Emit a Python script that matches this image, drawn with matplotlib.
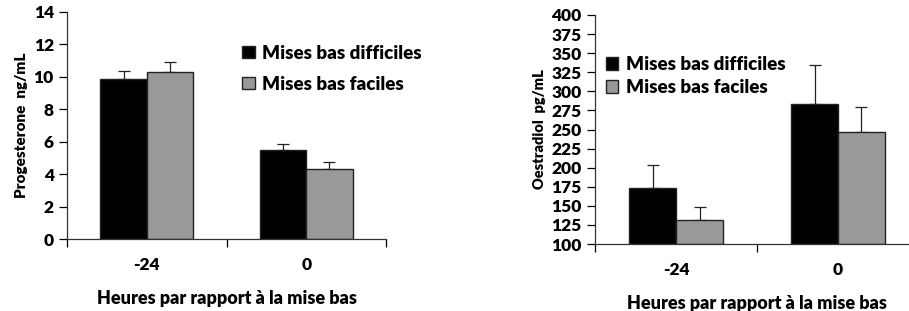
import matplotlib.pyplot as plt
import numpy as np

# --- donnees ---
heures = ['-24', '0']
series = ['Mises bas difficiles', 'Mises bas faciles']
couleurs = ['#000000', '#999999']

progesterone = [[9.83, 5.51], [10.30, 4.34]]
progesterone_err = [[0.53, 0.37], [0.58, 0.43]]

oestradiol = [[173, 283], [132, 247]]
oestradiol_err = [[31, 51], [17, 32]]

plt.rcParams['font.family'] = ['Lato', 'DejaVu Sans']
plt.rcParams['font.weight'] = 'heavy'


def panneau(ax, valeurs, erreurs, ylabel, ylsize, ylim, yticks, legend_pos,
            spacing):
    x = np.arange(len(heures)) + 0.5
    w = 0.29
    for i, (vals, errs) in enumerate(zip(valeurs, erreurs)):
        pos = x + (i - 0.5) * w
        ax.bar(pos, np.array(vals) - ylim[0], w, bottom=ylim[0],
               color=couleurs[i], edgecolor='#222222', linewidth=1.0,
               label=series[i], zorder=2)
        ax.errorbar(pos, vals, yerr=[np.zeros(len(errs)), errs], fmt='none',
                    ecolor='#222222', elinewidth=0.9, capsize=4, capthick=0.9,
                    zorder=1)
    ax.set_xlim(0, len(heures))
    ax.set_ylim(*ylim)
    ax.set_yticks(yticks)
    ax.set_xticks(np.arange(len(heures) + 1))
    ax.set_xticklabels([])
    ax.set_xticks(x, minor=True)
    ax.set_xticklabels(heures, minor=True)
    ax.tick_params(axis='x', which='major', length=6, width=0.9, direction='out')
    ax.tick_params(axis='x', which='minor', length=0, pad=13, labelsize=12.5)
    ax.tick_params(axis='y', length=6, width=0.9, direction='out', labelsize=12.5)
    for lab in ax.get_yticklabels() + ax.get_xticklabels(minor=True):
        lab.set_fontweight('heavy')
    for s in ['top', 'right']:
        ax.spines[s].set_visible(False)
    for s in ['left', 'bottom']:
        ax.spines[s].set_linewidth(0.9)
        ax.spines[s].set_color('#333333')
    ax.set_ylabel(ylabel, fontsize=ylsize, fontweight='heavy')
    ax.set_xlabel('Heures par rapport à la mise bas', fontsize=13,
                  fontweight='heavy', labelpad=12)
    leg = ax.legend(loc='upper left', bbox_to_anchor=legend_pos, frameon=False,
                    fontsize=13.5, handlelength=0.65, handleheight=0.65,
                    handletextpad=0.4, labelspacing=spacing, borderaxespad=0,
                    borderpad=0)
    for t in leg.get_texts():
        t.set_fontweight('heavy')


fig = plt.figure(figsize=(9.09, 3.11), dpi=100)
ax1 = fig.add_axes([0.0737, 0.2315, 0.351, 0.7305])
ax2 = fig.add_axes([0.6546, 0.2154, 0.3564, 0.7364])

panneau(ax1, progesterone, progesterone_err, 'Progesterone  ng/mL', 11,
        (0, 14), np.arange(0, 15, 2), (0.55, 0.855), 0.75)
panneau(ax2, oestradiol, oestradiol_err, 'Oestradiol  pg/mL', 10.5,
        (100, 400), np.arange(100, 401, 25), (0.034, 0.82), 0.3)

fig.savefig('out.png', dpi=100)
